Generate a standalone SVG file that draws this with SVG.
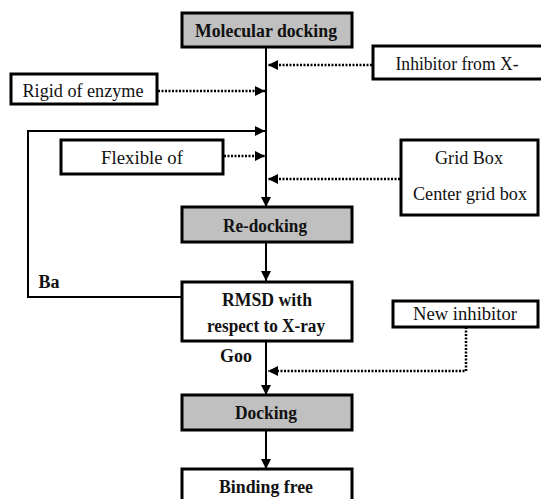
<svg xmlns="http://www.w3.org/2000/svg" width="541" height="499" viewBox="0 0 541 499">
<style>
.box{fill:#fff;stroke:#000;stroke-width:3}
.gray{fill:#c0c0c0;stroke:#000;stroke-width:3}
.t{font-family:'Liberation Serif','DejaVu Serif',serif;font-size:19px;fill:#111;text-anchor:middle}
.b{font-family:'Liberation Serif','DejaVu Serif',serif;font-size:18px;font-weight:bold;fill:#111;text-anchor:middle}
.ln{fill:none;stroke:#000;stroke-width:2}
.dot{fill:none;stroke:#000;stroke-width:2.5;stroke-dasharray:2 1.5}
</style>
<defs>
<marker id="ah" markerUnits="userSpaceOnUse" markerWidth="10" markerHeight="10" viewBox="0 0 10 10" refX="10" refY="5" orient="auto">
<path d="M0,0 L10,5 L0,10 z" fill="#000"/>
</marker>
</defs>
<g id="connectors">
<line class="ln" x1="266" y1="47" x2="266" y2="207" marker-end="url(#ah)"/>
<line class="ln" x1="266" y1="242" x2="266" y2="281" marker-end="url(#ah)"/>
<line class="ln" x1="266" y1="342" x2="266" y2="395" marker-end="url(#ah)"/>
<line class="ln" x1="266" y1="430" x2="266" y2="469" marker-end="url(#ah)"/>
<polyline class="ln" points="182,297 28,297 28,131 265,131" marker-end="url(#ah)"/>
<line class="dot" x1="372" y1="65" x2="268" y2="65" marker-end="url(#ah)"/>
<line class="dot" x1="158" y1="91" x2="265" y2="91" marker-end="url(#ah)"/>
<line class="dot" x1="224" y1="156" x2="265" y2="156" marker-end="url(#ah)"/>
<line class="dot" x1="400" y1="179" x2="268" y2="179" marker-end="url(#ah)"/>
<polyline class="dot" points="466,327 466,371 268,371" marker-end="url(#ah)"/>
</g>
<g id="molecular-docking">
<rect class="gray" x="182" y="13" width="170" height="34"/>
<text class="b" x="266" y="37" textLength="142" lengthAdjust="spacingAndGlyphs">Molecular docking</text>
</g>
<g id="inhibitor-xray">
<rect class="box" x="373" y="46" width="175" height="33"/>
<text class="t" x="457" y="70" textLength="123" lengthAdjust="spacingAndGlyphs">Inhibitor from X-</text>
</g>
<g id="rigid">
<rect class="box" x="11" y="74" width="146" height="30"/>
<text class="t" x="83" y="97" textLength="121" lengthAdjust="spacingAndGlyphs">Rigid of enzyme</text>
</g>
<g id="flexible">
<rect class="box" x="61" y="140" width="162" height="34"/>
<text class="t" x="142" y="164" textLength="82" lengthAdjust="spacingAndGlyphs">Flexible of</text>
</g>
<g id="grid-box">
<rect class="box" x="401" y="140" width="137" height="75"/>
<text class="t" x="469" y="164" textLength="68" lengthAdjust="spacingAndGlyphs">Grid Box</text>
<text class="t" x="470" y="200" textLength="114" lengthAdjust="spacingAndGlyphs">Center grid box</text>
</g>
<g id="re-docking">
<rect class="gray" x="182" y="207" width="170" height="35"/>
<text class="b" x="265" y="232" textLength="84" lengthAdjust="spacingAndGlyphs">Re-docking</text>
</g>
<g id="rmsd">
<rect class="box" x="182" y="282" width="170" height="59"/>
<text class="b" x="267" y="306" textLength="90" lengthAdjust="spacingAndGlyphs">RMSD with</text>
<text class="b" x="266" y="332" textLength="118" lengthAdjust="spacingAndGlyphs">respect to X-ray</text>
</g>
<g id="labels">
<text class="b" x="49" y="288" textLength="21" lengthAdjust="spacingAndGlyphs">Ba</text>
<text class="b" x="236" y="362" textLength="32" lengthAdjust="spacingAndGlyphs">Goo</text>
</g>
<g id="new-inhibitor">
<rect class="box" x="393" y="301" width="145" height="26"/>
<text class="t" x="465" y="320" textLength="104" lengthAdjust="spacingAndGlyphs">New inhibitor</text>
</g>
<g id="docking">
<rect class="gray" x="182" y="395" width="170" height="35"/>
<text class="b" x="266" y="419" textLength="62" lengthAdjust="spacingAndGlyphs">Docking</text>
</g>
<g id="binding-free">
<rect class="box" x="182" y="469" width="170" height="40"/>
<text class="b" x="266" y="493" textLength="94" lengthAdjust="spacingAndGlyphs">Binding free</text>
</g>
</svg>
